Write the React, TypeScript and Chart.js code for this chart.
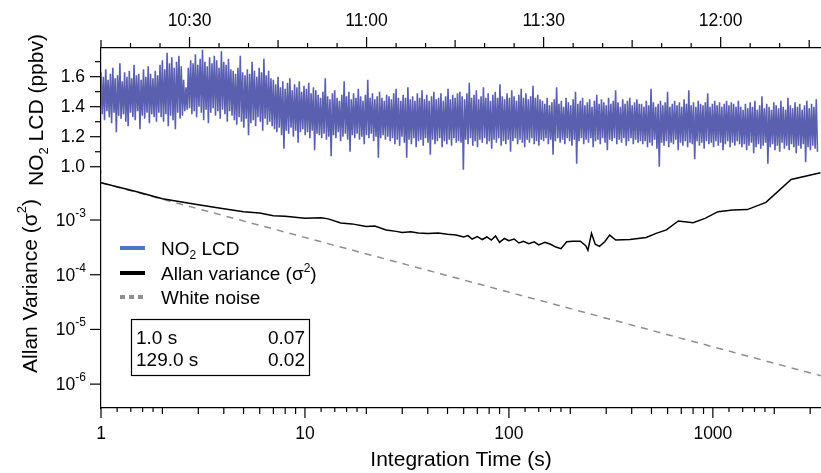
import { useEffect, useRef } from 'react';
import { Chart, registerables } from 'chart.js';

Chart.register(...registerables);

// ---------- DATA ----------
// Time series: minutes after 10:00, one value every TIME_STEP_MIN minutes
const TIME_START_MIN = 15;
const TIME_STEP_MIN = 0.2;
const NO2_LCD = [
  // 10:15 - 10:25
  1.63, 1.35, 1.60, 1.31, 1.65, 1.37, 1.58, 1.33, 1.62, 1.29, 1.66, 1.36, 1.59, 1.23, 1.61, 1.34, 1.69, 1.32, 1.57, 1.35, 1.63, 1.30, 1.60, 1.27, 1.64, 1.36,
  1.59, 1.33, 1.68, 1.31, 1.61, 1.37, 1.62, 1.25, 1.58, 1.34, 1.65, 1.32, 1.60, 1.36, 1.67, 1.29, 1.62, 1.35, 1.59, 1.33, 1.64, 1.30, 1.61, 1.36,
  // 10:25 - 10:30
  1.68, 1.33, 1.71, 1.30, 1.65, 1.35, 1.76, 1.27, 1.69, 1.34, 1.73, 1.31, 1.66, 1.25, 1.70, 1.36, 1.74, 1.32, 1.67, 1.34, 1.58, 1.37, 1.53, 1.38,
  // 10:30 - 10:38
  1.66, 1.39, 1.71, 1.35, 1.69, 1.37, 1.75, 1.33, 1.68, 1.40, 1.72, 1.36, 1.78, 1.31, 1.70, 1.38, 1.67, 1.29, 1.73, 1.36, 1.69, 1.39, 1.74, 1.34, 1.71, 1.37,
  1.66, 1.32, 1.77, 1.38, 1.70, 1.35, 1.68, 1.30, 1.72, 1.37, 1.65, 1.34,
  // 10:38 - 10:44
  1.64, 1.31, 1.62, 1.28, 1.66, 1.33, 1.74, 1.30, 1.63, 1.26, 1.61, 1.32, 1.65, 1.21, 1.62, 1.29, 1.70, 1.31, 1.64, 1.27, 1.60, 1.33, 1.66, 1.30, 1.63, 1.24,
  1.72, 1.32, 1.61, 1.28, 1.64, 1.30, 1.59, 1.27,
  // 10:44 - 10:52
  1.58, 1.25, 1.55, 1.23, 1.60, 1.26, 1.53, 1.21, 1.57, 1.12, 1.52, 1.24, 1.56, 1.22, 1.59, 1.26, 1.51, 1.20, 1.55, 1.24, 1.53, 1.16, 1.57, 1.23, 1.50, 1.25,
  1.54, 1.21, 1.52, 1.23, 1.56, 1.19, 1.49, 1.24, 1.53, 1.11, 1.51, 1.22,
  // 10:52 - 11:04
  1.48, 1.21, 1.46, 1.19, 1.50, 1.22, 1.59, 1.18, 1.47, 1.20, 1.45, 1.07, 1.49, 1.21, 1.51, 1.19, 1.46, 1.23, 1.44, 1.17, 1.48, 1.20, 1.57, 1.22, 1.47, 1.18,
  1.50, 1.10, 1.45, 1.21, 1.49, 1.19, 1.46, 1.22, 1.52, 1.18, 1.47, 1.20, 1.44, 1.15, 1.48, 1.21, 1.58, 1.19, 1.46, 1.22, 1.49, 1.17, 1.45, 1.20, 1.47, 1.06,
  1.50, 1.19, 1.46, 1.21, 1.44, 1.18, 1.48, 1.20,
  // 11:04 - 11:16
  1.47, 1.17, 1.45, 1.19, 1.49, 1.15, 1.52, 1.18, 1.46, 1.14, 1.44, 1.20, 1.48, 1.16, 1.46, 1.06, 1.53, 1.18, 1.45, 1.15, 1.47, 1.19, 1.44, 1.13, 1.49, 1.17,
  1.46, 1.18, 1.51, 1.14, 1.45, 1.19, 1.48, 1.16, 1.44, 1.08, 1.47, 1.18, 1.50, 1.15, 1.45, 1.17, 1.46, 1.19, 1.49, 1.13, 1.44, 1.17, 1.47, 1.15, 1.52, 1.18,
  1.45, 1.14, 1.48, 1.19, 1.46, 1.16, 1.49, 1.17,
  // 11:16 - 11:30
  1.50, 1.16, 1.47, 0.98, 1.45, 1.18, 1.49, 1.15, 1.56, 1.19, 1.46, 1.14, 1.48, 1.17, 1.51, 1.13, 1.45, 1.18, 1.47, 1.16, 1.53, 1.19, 1.46, 1.15, 1.49, 1.17,
  1.44, 1.12, 1.48, 1.18, 1.50, 1.16, 1.46, 1.19, 1.55, 1.14, 1.47, 1.17, 1.45, 1.15, 1.49, 1.18, 1.46, 1.10, 1.51, 1.17, 1.47, 1.19, 1.44, 1.15, 1.48, 1.18,
  1.52, 1.16, 1.46, 1.13, 1.49, 1.18, 1.45, 1.16, 1.47, 1.19, 1.54, 1.15, 1.46, 1.17, 1.48, 1.14, 1.45, 1.18,
  // 11:30 - 11:47
  1.44, 1.17, 1.42, 1.19, 1.46, 1.15, 1.41, 1.18, 1.43, 1.08, 1.45, 1.17, 1.53, 1.19, 1.42, 1.16, 1.44, 1.18, 1.40, 1.15, 1.46, 1.19, 1.43, 1.17, 1.41, 1.14,
  1.45, 1.18, 1.50, 1.02, 1.42, 1.17, 1.44, 1.19, 1.46, 1.15, 1.41, 1.18, 1.43, 1.16, 1.45, 1.19, 1.40, 1.13, 1.44, 1.17, 1.48, 1.18, 1.42, 1.15, 1.45, 1.19,
  1.43, 1.16, 1.41, 1.11, 1.46, 1.18, 1.42, 1.17, 1.44, 1.19, 1.51, 1.15, 1.43, 1.18, 1.40, 1.16, 1.45, 1.19, 1.42, 1.14, 1.44, 1.17, 1.46, 1.19, 1.41, 1.15,
  1.43, 1.18, 1.45, 1.16, 1.42, 1.17,
  // 11:47 - 12:04
  1.42, 1.15, 1.40, 1.17, 1.44, 1.13, 1.41, 1.16, 1.52, 1.14, 1.43, 1.18, 1.40, 1.12, 1.42, 1.00, 1.44, 1.16, 1.41, 1.14, 1.43, 1.17, 1.50, 1.13, 1.40, 1.16,
  1.42, 1.15, 1.44, 1.18, 1.41, 1.11, 1.43, 1.16, 1.40, 1.14, 1.45, 1.17, 1.42, 1.13, 1.51, 1.16, 1.41, 1.15, 1.43, 1.05, 1.40, 1.17, 1.44, 1.14, 1.42, 1.16,
  1.41, 1.12, 1.43, 1.17, 1.49, 1.15, 1.40, 1.16, 1.42, 1.13, 1.44, 1.17, 1.41, 1.14, 1.43, 1.16, 1.40, 1.11, 1.42, 1.15, 1.44, 1.17, 1.41, 1.13, 1.43, 1.16,
  1.42, 1.14, 1.40, 1.17, 1.44, 1.15,
  // 12:04 - 12:17
  1.40, 1.13, 1.38, 1.15, 1.42, 1.11, 1.39, 1.14, 1.43, 1.16, 1.40, 1.09, 1.44, 1.13, 1.38, 1.15, 1.41, 1.12, 1.47, 1.14, 1.39, 1.16, 1.42, 1.02, 1.40, 1.13,
  1.38, 1.15, 1.43, 1.11, 1.41, 1.14, 1.39, 1.10, 1.44, 1.16, 1.40, 1.12, 1.38, 1.14, 1.46, 1.11, 1.41, 1.15, 1.39, 1.13, 1.43, 1.09, 1.40, 1.14, 1.42, 1.12,
  1.38, 1.15, 1.41, 1.03, 1.44, 1.13, 1.39, 1.11, 1.42, 1.14, 1.40, 1.12, 1.45, 1.10,
];

// Allan variance vs integration time
const ALLAN_TAU = [
  1, 1.5, 2, 3, 4, 5, 6, 7, 8, 10, 12, 13, 15, 17, 20, 22, 25, 28, 30, 33, 36, 40, 45, 50, 55, 60, 63, 66, 70, 74, 78, 82, 86, 90, 95, 100,
  106, 112, 118, 125, 133, 140, 150, 160, 170, 180, 192, 205, 224, 238, 244, 254, 265, 278, 295, 312, 334, 392, 471, 527, 592, 677, 800,
  915, 1060, 1250, 1475, 1820, 2420, 3370,
];
const ALLAN_VAR = [
  4.8e-3, 3.3e-3, 2.45e-3, 1.9e-3, 1.6e-3, 1.42e-3, 1.35e-3, 1.2e-3, 1.17e-3, 1.08e-3, 1.1e-3, 1.05e-3, 8.8e-4, 8.5e-4, 7.6e-4, 7.8e-4, 6.6e-4, 6.2e-4, 5.9e-4, 6.1e-4, 5.8e-4, 5.7e-4, 5.8e-4, 5.5e-4, 5.3e-4, 4.9e-4, 5.2e-4, 4.5e-4, 5.0e-4, 4.4e-4, 4.9e-4, 4.3e-4, 5.1e-4, 3.9e-4, 4.6e-4, 4.2e-4,
  4.5e-4, 3.8e-4, 4.1e-4, 3.7e-4, 4.0e-4, 3.5e-4, 3.9e-4, 3.6e-4, 3.2e-4, 3.0e-4, 4.0e-4, 4.1e-4, 4.1e-4, 3.4e-4, 2.8e-4, 5.7e-4, 3.6e-4, 3.3e-4, 4.0e-4, 5.3e-4, 4.3e-4, 4.4e-4, 4.8e-4, 5.7e-4, 6.6e-4, 9.6e-4, 8.9e-4,
  1.07e-3, 1.42e-3, 1.52e-3, 1.55e-3, 2.1e-3, 5.5e-3, 7.3e-3,
];

// White-noise reference line (slope -1 in log-log)
const WHITE_TAU = [1, 3390];
const WHITE_VAR = [4.8e-3, 1.42e-6];

// Axis ticks / labels
const TIME_TICKS = [30, 60, 90, 120];
const TIME_LABELS = ['10:30', '11:00', '11:30', '12:00'];
const NO2_TICKS = [1.0, 1.2, 1.4, 1.6];
const TAU_TICKS = [1, 10, 100, 1000];
const VAR_EXPONENTS = [-6, -5, -4, -3];

const STATS_ROWS = [
  ['1.0 s', '0.07'],
  ['129.0 s', '0.02'],
];

// ---------- STYLE ----------
const FONT = '"Liberation Sans", Arial, Helvetica, sans-serif';
const TRACE_COLOR = '#5A5FB0';
const LEGEND_BLUE = '#4E77C2';
const WHITE_COLOR = '#8E8E8E';
const TICK_SIZE = 17.5;
const LEGEND_SIZE = 19;
const TITLE_SIZE = 21;

type Part = { text: string; size: number; dy?: number };

function drawRich(ctx: CanvasRenderingContext2D, parts: Part[], x: number, y: number, align: 'left' | 'center' | 'right') {
  let total = 0;
  const widths = parts.map((p) => {
    ctx.font = `${p.size}px ${FONT}`;
    const w = ctx.measureText(p.text).width;
    total += w;
    return w;
  });
  let cx = align === 'center' ? x - total / 2 : align === 'right' ? x - total : x;
  ctx.textAlign = 'left';
  ctx.textBaseline = 'alphabetic';
  parts.forEach((p, i) => {
    ctx.font = `${p.size}px ${FONT}`;
    ctx.fillText(p.text, cx, y + (p.dy || 0));
    cx += widths[i];
  });
}

function line(ctx: CanvasRenderingContext2D, x1: number, y1: number, x2: number, y2: number) {
  ctx.beginPath();
  ctx.moveTo(x1, y1);
  ctx.lineTo(x2, y2);
  ctx.stroke();
}

const decorPlugin = {
  id: 'decor',
  afterDraw(chart: any) {
    const ctx: CanvasRenderingContext2D = chart.ctx;
    const ca = chart.chartArea;
    const sT = chart.scales.xTime;
    const sB = chart.scales.xTau;
    const sN = chart.scales.yNo2;
    const sV = chart.scales.yVar;
    ctx.save();
    ctx.strokeStyle = '#000';
    ctx.fillStyle = '#000';
    ctx.lineWidth = 1.2;

    // top time axis ticks (every 5 min)
    for (let m = TIME_START_MIN; m <= sT.max; m += 5) {
      const x = sT.getPixelForValue(m);
      const len = m % 30 === 0 ? 11 : m % 15 === 0 ? 8 : 5;
      line(ctx, x, ca.top, x, ca.top - len);
    }
    // bottom log axis ticks
    for (const base of TAU_TICKS) {
      for (let k = 1; k <= 9; k++) {
        const v = k * base;
        if (v > sB.max) break;
        const x = sB.getPixelForValue(v);
        line(ctx, x, ca.bottom, x, ca.bottom + (k === 1 ? 10 : 6));
      }
      for (const s of [1.2, 1.4, 1.6, 1.8]) {
        const v = s * base;
        if (v > sB.max) break;
        const x = sB.getPixelForValue(v);
        line(ctx, x, ca.bottom, x, ca.bottom + 4);
      }
    }
    // left axis ticks, NO2 panel
    for (let i = 10; i <= 17; i++) {
      const v = i / 10;
      if (v < sN.min || v > sN.max) continue;
      const y = sN.getPixelForValue(v);
      line(ctx, ca.left, y, ca.left - (i % 2 === 0 ? 11 : 6), y);
    }
    // left axis ticks + labels, Allan panel
    for (const e of VAR_EXPONENTS) {
      const y = sV.getPixelForValue(Math.pow(10, e));
      line(ctx, ca.left, y, ca.left - 11, y);
      drawRich(ctx, [
        { text: '10', size: TICK_SIZE },
        { text: String(e), size: 12, dy: -9 },
      ], 86, y + 6, 'right');
    }

    // y axis titles
    ctx.save();
    ctx.translate(43, (sN.top + sN.bottom) / 2);
    ctx.rotate(-Math.PI / 2);
    drawRich(ctx, [
      { text: 'NO', size: TITLE_SIZE },
      { text: '2', size: 13, dy: 5 },
      { text: ' LCD (ppbv)', size: TITLE_SIZE },
    ], 0, 0, 'center');
    ctx.restore();

    ctx.save();
    ctx.translate(37, (sV.top + sV.bottom) / 2 - 4);
    ctx.rotate(-Math.PI / 2);
    drawRich(ctx, [
      { text: 'Allan Variance (\u03C3', size: TITLE_SIZE },
      { text: '2', size: 13, dy: -11 },
      { text: ')', size: TITLE_SIZE },
    ], 0, 0, 'center');
    ctx.restore();

    // legend
    const lx = 120, lw = 25, tx = 161;
    const ly = [248, 273, 297];
    ctx.lineWidth = 4;
    ctx.strokeStyle = LEGEND_BLUE;
    line(ctx, lx, ly[0], lx + lw, ly[0]);
    ctx.strokeStyle = '#000';
    line(ctx, lx, ly[1], lx + lw, ly[1]);
    ctx.strokeStyle = WHITE_COLOR;
    ctx.setLineDash([5, 4]);
    line(ctx, lx, ly[2], lx + lw + 2, ly[2]);
    ctx.setLineDash([]);
    ctx.fillStyle = '#000';
    drawRich(ctx, [
      { text: 'NO', size: LEGEND_SIZE },
      { text: '2', size: 12, dy: 4 },
      { text: ' LCD', size: LEGEND_SIZE },
    ], tx, ly[0] + 7, 'left');
    drawRich(ctx, [
      { text: 'Allan variance (\u03C3', size: LEGEND_SIZE },
      { text: '2', size: 12, dy: -8 },
      { text: ')', size: LEGEND_SIZE },
    ], tx, ly[1] + 7, 'left');
    drawRich(ctx, [{ text: 'White noise', size: LEGEND_SIZE }], tx, ly[2] + 7, 'left');

    // stats box
    ctx.lineWidth = 1.2;
    ctx.strokeStyle = '#000';
    ctx.strokeRect(131.5, 319.5, 178, 56);
    STATS_ROWS.forEach((row, i) => {
      const by = 343.5 + i * 22.5;
      drawRich(ctx, [{ text: row[0], size: LEGEND_SIZE }], 136, by, 'left');
      drawRich(ctx, [{ text: row[1], size: LEGEND_SIZE }], 305, by, 'right');
    });

    ctx.restore();
  },
};

export default function App() {
  const ref = useRef<HTMLCanvasElement>(null);
  useEffect(() => {
    document.body.style.margin = '0';
    const no2Data = NO2_LCD.map((v, i) => ({ x: TIME_START_MIN + i * TIME_STEP_MIN, y: v }));
    const allanData = ALLAN_TAU.map((t, i) => ({ x: t, y: ALLAN_VAR[i] }));
    const whiteData = WHITE_TAU.map((t, i) => ({ x: t, y: WHITE_VAR[i] }));
    const axisBorder = { display: true, color: '#000', width: 1.2 };
    const noGrid = { display: true, drawOnChartArea: false, drawTicks: false };
    const chart = new Chart(ref.current!, {
      type: 'line',
      data: {
        datasets: [
          {
            label: 'NO2 LCD',
            data: no2Data,
            xAxisID: 'xTime',
            yAxisID: 'yNo2',
            borderColor: TRACE_COLOR,
            borderWidth: 1.6,
            borderJoinStyle: 'bevel',
            pointRadius: 0,
            tension: 0,
          },
          {
            label: 'Allan variance',
            data: allanData,
            xAxisID: 'xTau',
            yAxisID: 'yVar',
            borderColor: '#000',
            borderWidth: 1.5,
            pointRadius: 0,
            tension: 0,
          },
          {
            label: 'White noise',
            data: whiteData,
            xAxisID: 'xTau',
            yAxisID: 'yVar',
            borderColor: WHITE_COLOR,
            borderWidth: 1.5,
            borderDash: [7, 6],
            pointRadius: 0,
          },
        ],
      },
      options: {
        responsive: false,
        animation: false,
        devicePixelRatio: 1,
        layout: { padding: 0 },
        plugins: { legend: { display: false }, tooltip: { enabled: false } },
        events: [],
        scales: {
          xTime: {
            type: 'linear',
            position: 'top',
            min: TIME_START_MIN,
            max: 137,
            grid: noGrid,
            border: axisBorder,
            afterBuildTicks: (s: any) => {
              s.ticks = TIME_TICKS.map((v) => ({ value: v }));
            },
            ticks: {
              autoSkip: false,
              maxRotation: 0,
              padding: 16,
              color: '#000',
              font: { family: FONT, size: TICK_SIZE },
              callback: (v: any) => TIME_LABELS[TIME_TICKS.indexOf(Number(v))] ?? '',
            },
            afterFit: (s: any) => {
              s.height = 48;
            },
          },
          xTau: {
            type: 'logarithmic',
            position: 'bottom',
            min: 1,
            max: 3390,
            grid: noGrid,
            border: axisBorder,
            afterBuildTicks: (s: any) => {
              s.ticks = TAU_TICKS.map((v) => ({ value: v }));
            },
            ticks: {
              autoSkip: false,
              maxRotation: 0,
              padding: 16,
              color: '#000',
              font: { family: FONT, size: TICK_SIZE },
              callback: (v: any) => String(v),
            },
            title: {
              display: true,
              text: 'Integration Time (s)',
              color: '#000',
              font: { family: FONT, size: TITLE_SIZE },
              padding: { top: 0, bottom: 0 },
            },
            afterFit: (s: any) => {
              s.height = 65;
            },
          },
          yVar: {
            type: 'logarithmic',
            position: 'left',
            stack: 'left',
            stackWeight: 236,
            min: 3.66e-7,
            max: 7.55e-3,
            grid: noGrid,
            border: axisBorder,
            ticks: { display: false },
            afterFit: (s: any) => {
              s.width = 101;
            },
          },
          yNo2: {
            type: 'linear',
            position: 'left',
            stack: 'left',
            stackWeight: 124,
            min: 0.965,
            max: 1.791,
            grid: noGrid,
            border: axisBorder,
            afterBuildTicks: (s: any) => {
              s.ticks = NO2_TICKS.map((v) => ({ value: v }));
            },
            ticks: {
              padding: 16,
              color: '#000',
              font: { family: FONT, size: TICK_SIZE },
              callback: (v: any) => Number(v).toFixed(1),
            },
            afterFit: (s: any) => {
              s.width = 101;
            },
          },
        },
      } as any,
      plugins: [decorPlugin],
    });
    return () => chart.destroy();
  }, []);
  return <canvas ref={ref} width={821} height={473} style={{ display: 'block', width: 821, height: 473 }} />;
}
